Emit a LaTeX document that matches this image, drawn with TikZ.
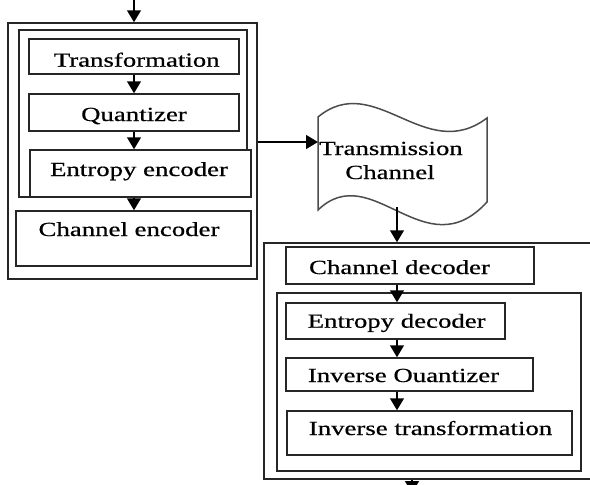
\documentclass[tikz,border=0pt]{standalone}
\usepackage{fontspec}
\newfontfamily\diafont[FakeStretch=1.34,FakeBold=0.6]{Liberation Serif}
\usetikzlibrary{arrows.meta}
\begin{document}
\begin{tikzpicture}[x=1pt,y=-1pt,
  box/.style={draw=black!85, fill=white, inner sep=0pt, line width=1.5pt},
  txt/.style={font=\diafont\fontsize{20}{24}\selectfont, text=black, inner sep=0pt, anchor=base},
  arr/.style={draw=black, line width=1.5pt, -{Triangle[width=14pt,length=12pt]}}]
\useasboundingbox (0,0) rectangle (590,485);
\clip (0,0) rectangle (590,485);
\fill[white] (0,0) rectangle (590,485);
% encoder
\node[box, minimum width=249pt, minimum height=256pt] (enc) at (132.5,151) {};
\node[box, minimum width=228pt, minimum height=167pt] (encin) at (133,113.5) {};
\node[box, minimum width=210pt, minimum height=35pt] (tr) at (134,56.5) {};
\node[box, minimum width=210pt, minimum height=37pt] (qu) at (134,112.5) {};
\node[box, minimum width=221pt, minimum height=47pt] (ee) at (140.5,173.5) {};
\node[box, minimum width=235pt, minimum height=55pt] (ce) at (133.5,238.5) {};
\node[txt] (trt) at (136.7,66.7) {Transformation};
\node[txt] (qut) at (134,121) {Quantizer};
\node[txt] (eet) at (139,176) {Entropy encoder};
\node[txt] (cet) at (129,236) {Channel encoder};
% transmission channel (tape)
\node[inner sep=0pt, minimum width=169pt, minimum height=93pt] (tape) at (402.5,163.5) {};
\draw[draw=black!70, line width=1.5pt, fill=white]
  (318,117) .. controls (375,70) and (425,165) .. (487,118)
  -- (487,202) .. controls (425,270) and (372,158) .. (318,210) -- cycle;
\node[txt] (tat) at (391,155) {Transmission};
\node[txt] (tbt) at (390,179) {Channel};
% decoder
\node[box, minimum width=346pt, minimum height=236pt] (dec) at (437,361) {};
\node[box, minimum width=248pt, minimum height=37pt] (cd) at (410,265.5) {};
\node[box, minimum width=304pt, minimum height=178pt] (decin) at (429,382) {};
\node[box, minimum width=219pt, minimum height=36pt] (ed) at (395.5,321) {};
\node[box, minimum width=247pt, minimum height=33pt] (iq) at (409.5,374.5) {};
\node[box, minimum width=285pt, minimum height=44pt] (it) at (429.5,433) {};
\node[txt] (cdt) at (399.5,274) {Channel decoder};
\node[txt] (edt) at (396.7,327.7) {Entropy decoder};
\node[txt] (iqt) at (403.5,382) {Inverse Ouantizer};
\node[txt] (itt) at (430.5,435) {Inverse transformation};
% connectors
\coordinate (in) at (134,0);
\coordinate (tl) at (318,142);
\coordinate (tb) at (397,207);
\coordinate (out) at (412,493);
\draw[arr] (in) -- (in |- enc.north);
\draw[arr] (tr.south) -- (qu.north);
\draw[arr] (qu.south) -- (qu.south |- ee.north);
\draw[arr] (ee.south -| qu.south) -- (ce.north -| qu.south);
\draw[arr] (enc.east |- tl) -- (tl);
\draw[arr] (tb) -- (tb |- dec.north);
\draw[arr] (cd.south -| tb) -- (ed.north -| tb);
\draw[arr] (ed.south -| tb) -- (iq.north -| tb);
\draw[arr] (iq.south -| tb) -- (it.north -| tb);
\draw[arr] (dec.south -| out) -- (out);
\end{tikzpicture}
\end{document}
